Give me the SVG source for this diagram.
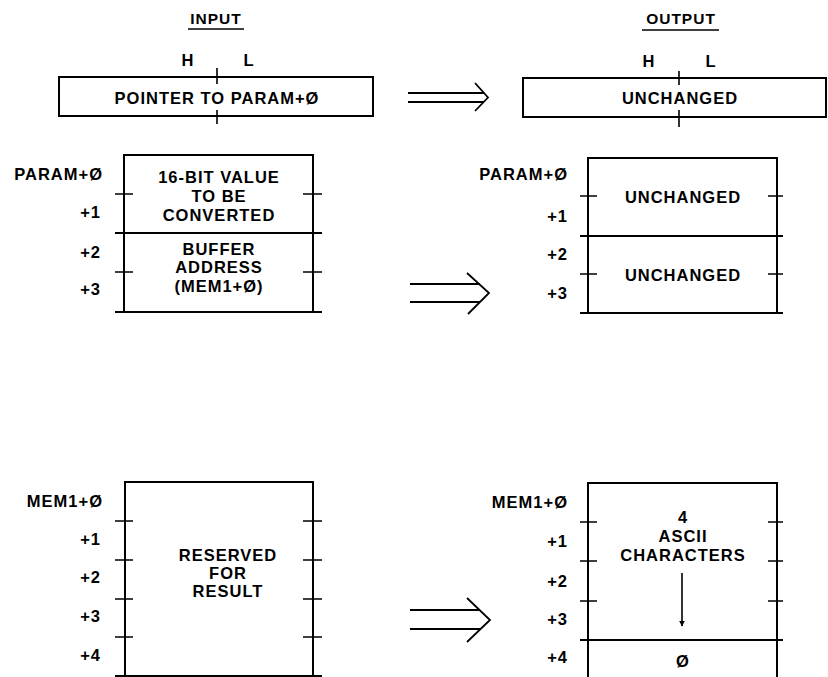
<svg xmlns="http://www.w3.org/2000/svg" width="828" height="677" viewBox="0 0 828 677">
<style>
  text { font-family: "Liberation Sans", Arial, sans-serif; font-weight: bold; font-size: 16.5px; letter-spacing: 1px; fill: #000; }
  .c { text-anchor: middle; }
  .r { text-anchor: end; }
  .hdr { font-size: 15.5px; letter-spacing: 1px; }
  .box { fill: none; stroke: #000; stroke-width: 2; }
  .ln { fill: none; stroke: #000; stroke-width: 2; }
  .tk { fill: none; stroke: #000; stroke-width: 1.6; }
  .ar { fill: none; stroke: #000; stroke-width: 1.8; stroke-linejoin: miter; }
</style>
<defs>
  <marker id="ah" viewBox="0 0 10 10" refX="9" refY="5" markerWidth="6" markerHeight="8" orient="auto" markerUnits="userSpaceOnUse">
    <path d="M0,0 L10,5 L0,10 Z" fill="#000"/>
  </marker>
</defs>
<rect x="0" y="0" width="828" height="677" fill="#fff"/>

<g id="headers">
  <text class="c hdr" x="216" y="24">INPUT</text>
  <line class="tk" x1="188" y1="29" x2="244" y2="29" stroke-width="1.2"/>
  <text class="c hdr" x="681" y="24">OUTPUT</text>
  <line class="tk" x1="642" y1="30" x2="719" y2="30" stroke-width="1.2"/>
</g>

<g id="input-pointer">
  <rect class="box" x="59" y="77" width="314" height="39"/>
  <path class="tk" d="M217,68 V84 M217,110 V124"/>
  <text class="c" x="188" y="66">H</text>
  <text class="c" x="249" y="66">L</text>
  <text class="c" x="217" y="104">POINTER TO PARAM+Ø</text>
</g>

<g id="output-pointer">
  <rect class="box" x="523" y="78" width="303" height="39"/>
  <path class="tk" d="M679,71 V85 M679,110 V127"/>
  <text class="c" x="649" y="67">H</text>
  <text class="c" x="711" y="67">L</text>
  <text class="c" x="680" y="104">UNCHANGED</text>
</g>

<g id="input-param">
  <rect class="box" x="124" y="155" width="189" height="157"/>
  <line class="ln" x1="115" y1="233" x2="322" y2="233"/>
  <line class="ln" x1="115" y1="312" x2="322" y2="312"/>
  <path class="tk" d="M115,194 H133 M303,194 H322 M115,272 H133 M303,272 H322"/>
  <text class="r" x="103" y="180">PARAM+Ø</text>
  <text class="r" x="101" y="218">+1</text>
  <text class="r" x="101" y="258">+2</text>
  <text class="r" x="101" y="295">+3</text>
  <text class="c" x="219" y="183">16-BIT VALUE</text>
  <text class="c" x="219" y="202">TO BE</text>
  <text class="c" x="219" y="221">CONVERTED</text>
  <text class="c" x="219" y="255">BUFFER</text>
  <text class="c" x="219" y="273">ADDRESS</text>
  <text class="c" x="219" y="292">(MEM1+Ø)</text>
</g>

<g id="output-param">
  <rect class="box" x="588" y="158" width="189" height="155"/>
  <line class="ln" x1="580" y1="236" x2="783" y2="236"/>
  <line class="ln" x1="580" y1="313" x2="783" y2="313"/>
  <path class="tk" d="M580,196 H597 M768,196 H783 M580,274 H597 M768,274 H783"/>
  <text class="r" x="568" y="180">PARAM+Ø</text>
  <text class="r" x="568" y="222">+1</text>
  <text class="r" x="568" y="260">+2</text>
  <text class="r" x="568" y="299">+3</text>
  <text class="c" x="683" y="203">UNCHANGED</text>
  <text class="c" x="683" y="281">UNCHANGED</text>
</g>

<g id="input-mem">
  <rect class="box" x="125" y="482" width="188" height="194"/>
  <line class="ln" x1="115" y1="676" x2="322" y2="676"/>
  <path class="tk" d="M115,521 H133 M303,521 H322 M115,560 H133 M303,560 H322 M115,599 H133 M303,599 H322 M115,637 H133 M303,637 H322"/>
  <text class="r" x="103" y="507">MEM1+Ø</text>
  <text class="r" x="101" y="545">+1</text>
  <text class="r" x="101" y="583">+2</text>
  <text class="r" x="101" y="622">+3</text>
  <text class="r" x="101" y="661">+4</text>
  <text class="c" x="228" y="561">RESERVED</text>
  <text class="c" x="228" y="579">FOR</text>
  <text class="c" x="228" y="597">RESULT</text>
</g>

<g id="output-mem">
  <path class="box" d="M588,677 V483 H777 V677"/>
  <line class="ln" x1="580" y1="640" x2="783" y2="640"/>
  <path class="tk" d="M580,522 H597 M768,522 H783 M580,561 H597 M768,561 H783 M580,601 H597 M768,601 H783"/>
  <text class="r" x="568" y="508">MEM1+Ø</text>
  <text class="r" x="568" y="547">+1</text>
  <text class="r" x="568" y="587">+2</text>
  <text class="r" x="568" y="625">+3</text>
  <text class="r" x="568" y="663">+4</text>
  <text class="c" x="683" y="523">4</text>
  <text class="c" x="683" y="542">ASCII</text>
  <text class="c" x="683" y="561">CHARACTERS</text>
  <line class="tk" x1="682" y1="573" x2="682" y2="626" marker-end="url(#ah)"/>
  <text class="c" x="683" y="667">Ø</text>
</g>

<g id="connectors">
  <path class="ar" d="M408,93 H484 M408,102 H484 M475,83 L488,97.5 L475,111"/>
  <path class="ar" d="M410,284 H480 M410,302 H480 M467,273 L489,293 L468,314"/>
  <path class="ar" d="M410,610 H480 M410,629 H480 M467,598 L490,620 L467,642"/>
</g>
</svg>
